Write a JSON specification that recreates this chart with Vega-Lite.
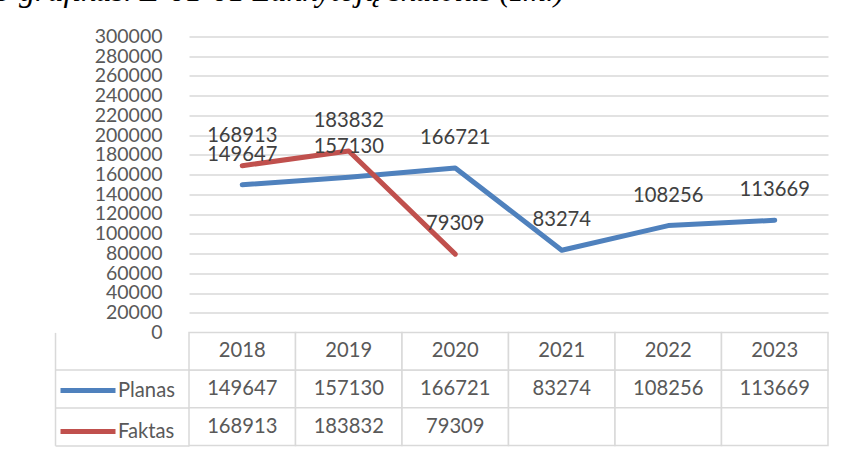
{
  "$schema": "https://vega.github.io/schema/vega-lite/v6.json",
  "padding": {"left": -5, "top": -25.6, "right": 16, "bottom": 4},
  "background": "white",
  "title": {
    "text": "3 grafikas. E-01-01 Lankytojų skaičius (žm.)",
    "anchor": "start",
    "frame": "group",
    "font": "Liberation Serif",
    "fontSize": 32,
    "fontStyle": "italic",
    "fontWeight": "normal",
    "color": "#000000",
    "baseline": "alphabetic",
    "offset": -6.2,
    "dx": -194
  },
  "datasets": {
    "main": [
      {"year": "2018", "series": "Planas", "value": 149647},
      {"year": "2019", "series": "Planas", "value": 157130},
      {"year": "2020", "series": "Planas", "value": 166721},
      {"year": "2021", "series": "Planas", "value": 83274},
      {"year": "2022", "series": "Planas", "value": 108256},
      {"year": "2023", "series": "Planas", "value": 113669},
      {"year": "2018", "series": "Faktas", "value": 168913},
      {"year": "2019", "series": "Faktas", "value": 183832},
      {"year": "2020", "series": "Faktas", "value": 79309},
      {"year": "2021", "series": "Faktas", "value": null},
      {"year": "2022", "series": "Faktas", "value": null},
      {"year": "2023", "series": "Faktas", "value": null}
    ]
  },
  "spacing": 0,
  "bounds": "flush",
  "resolve": {"scale": {"x": "independent", "y": "independent"}},
  "vconcat": [
    {
      "width": 639,
      "height": 296,
      "data": {"name": "main"},
      "encoding": {
        "x": {"field": "year", "type": "ordinal", "scale": {"type": "point", "padding": 0.5}, "axis": null},
        "y": {
          "field": "value", "type": "quantitative",
          "scale": {"domain": [0, 300000], "nice": false, "zero": true},
          "axis": {
            "values": [0, 20000, 40000, 60000, 80000, 100000, 120000, 140000, 160000, 180000, 200000, 220000, 240000, 260000, 280000, 300000],
            "format": "d",
            "title": null,
            "grid": true,
            "gridColor": "#d9d9d9",
            "gridWidth": 1.5,
            "domain": false,
            "ticks": false,
            "labelPadding": 27,
            "labelFont": "Lato",
            "labelFontSize": 19.5,
            "labelColor": "#595959",
            "labelOverlap": false,
            "labelFlush": false
          }
        }
      },
      "layer": [
        {
          "transform": [{"filter": "datum.series == 'Planas' && isValid(datum.value)"}],
          "mark": {"type": "line", "strokeWidth": 5, "strokeCap": "round", "strokeJoin": "round"},
          "encoding": {
            "color": {
              "field": "series", "type": "nominal",
              "scale": {"domain": ["Planas", "Faktas"], "range": ["#4F81BD", "#C0504D"]},
              "legend": {
                "orient": "none",
                "legendX": -131,
                "legendY": 324.2,
                "title": null,
                "direction": "vertical",
                "symbolType": "stroke",
                "symbolSize": 3025,
                "symbolStrokeWidth": 5,
                "labelFont": "Lato",
                "labelFontSize": 20.2,
                "labelColor": "#595959",
                "labelOffset": 0,
                "rowPadding": -17,
                "padding": 0
              }
            }
          }
        },
        {
          "transform": [{"filter": "datum.series == 'Faktas' && isValid(datum.value)"}],
          "mark": {"type": "line", "strokeWidth": 5, "strokeCap": "round", "strokeJoin": "round"},
          "encoding": {
            "color": {"field": "series", "type": "nominal"}
          }
        },
        {
          "transform": [{"filter": "isValid(datum.value)"}],
          "mark": {"type": "text", "baseline": "alphabetic", "dy": -24, "font": "Lato", "fontSize": 20.2, "color": "#404040"},
          "encoding": {
            "text": {"field": "value", "type": "quantitative", "format": "d"}
          }
        }
      ]
    },
    {
      "width": 639,
      "height": 113,
      "data": {"name": "main"},
      "encoding": {
        "x": {"field": "year", "type": "ordinal", "scale": {"type": "band", "paddingInner": 0, "paddingOuter": 0}, "axis": null}
      },
      "layer": [
        {
          "mark": {"type": "rect", "fill": "white", "stroke": "#d9d9d9", "strokeWidth": 1.5},
          "encoding": {
            "y": {
              "field": "series", "type": "ordinal",
              "scale": {"domain": ["hdr", "Planas", "Faktas"], "paddingInner": 0, "paddingOuter": 0},
              "axis": {
                "orient": "left",
                "offset": 134,
                "title": null,
                "labels": false,
                "grid": false,
                "domain": true,
                "domainColor": "#d9d9d9",
                "domainWidth": 1.5,
                "ticks": true,
                "tickSize": -134,
                "tickColor": "#d9d9d9",
                "tickWidth": 1.5,
                "bandPosition": 1
              }
            }
          }
        },
        {
          "transform": [{"aggregate": [{"op": "count", "as": "n"}], "groupby": ["year"]}],
          "mark": {"type": "rect", "fill": "white", "stroke": "#d9d9d9", "strokeWidth": 1.5},
          "encoding": {"y": {"datum": "hdr", "type": "ordinal"}}
        },
        {
          "transform": [{"filter": "isValid(datum.value)"}],
          "mark": {"type": "text", "font": "Lato", "fontSize": 20.2, "color": "#595959"},
          "encoding": {
            "y": {"field": "series", "type": "ordinal"},
            "text": {"field": "value", "type": "quantitative", "format": "d"}
          }
        },
        {
          "transform": [{"aggregate": [{"op": "count", "as": "n"}], "groupby": ["year"]}],
          "mark": {"type": "text", "font": "Lato", "fontSize": 20.2, "color": "#595959"},
          "encoding": {
            "y": {"datum": "hdr", "type": "ordinal"},
            "text": {"field": "year", "type": "nominal"}
          }
        }
      ]
    }
  ],
  "config": {"view": {"stroke": null}}
}
